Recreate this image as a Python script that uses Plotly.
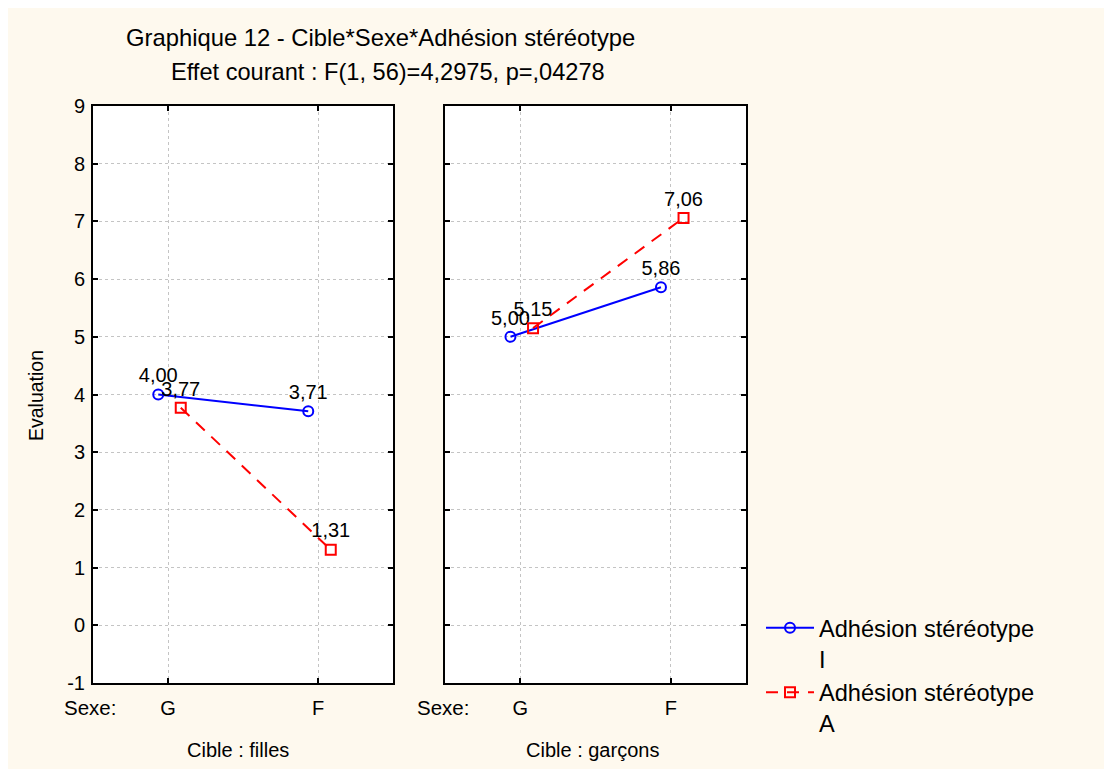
import plotly.graph_objects as go

# Données
sexe = ["G", "F"]
cibles = ["filles", "garçons"]
adhesion_I = {"filles": [4.00, 3.71], "garçons": [5.00, 5.86]}
adhesion_A = {"filles": [3.77, 1.31], "garçons": [5.15, 7.06]}
yticks = list(range(-1, 10))

FONT = "Liberation Sans, Arial, sans-serif"
CREAM = "#FEF9EE"
W, H = 1104, 761  # la page ajoute 8 px de marge blanche en haut et à gauche


def fmt(v):
    return f"{v:.2f}".replace(".", ",")


def px(x):
    return x / W


def py(y):
    return 1 - y / H


fig = go.Figure()

series = [
    ("Adhésion stéréotype<br>I", adhesion_I, "#0000FF", "circle-open", "solid", -0.065),
    ("Adhésion stéréotype<br>A", adhesion_A, "#FF0000", "square-open", "12px,9px", 0.085),
]

for i, cible in enumerate(cibles):
    xa = "x" if i == 0 else "x2"
    ya = "y" if i == 0 else "y2"
    for name, vals, color, symbol, dash, off in series:
        fig.add_trace(
            go.Scatter(
                x=[k + off for k in range(len(sexe))],
                y=vals[cible],
                xaxis=xa,
                yaxis=ya,
                mode="lines+markers+text",
                name=name,
                showlegend=(i == 0),
                line=dict(color=color, width=2, dash=dash),
                marker=dict(symbol=symbol, size=10, color=color, line=dict(width=2, color=color)),
                text=[fmt(v) for v in vals[cible]],
                textposition="top center",
                textfont=dict(size=20, color="black", family=FONT),
                cliponaxis=False,
            )
        )

axis_common = dict(
    showline=True,
    linecolor="black",
    linewidth=2,
    mirror="ticks",
    ticks="inside",
    ticklen=5,
    tickwidth=2,
    tickcolor="black",
    showgrid=True,
    gridcolor="#C4C4C4",
    gridwidth=1,
    griddash="dot",
    zeroline=False,
    automargin=False,
    tickfont=dict(size=20, color="black", family=FONT),
)

fig.update_layout(
    width=W,
    height=H,
    margin=dict(l=0, r=0, t=0, b=0),
    paper_bgcolor=CREAM,
    plot_bgcolor="white",
    font=dict(family=FONT, color="black"),
    xaxis=dict(domain=[px(85), px(385)], range=[-0.5, 1.5],
               tickvals=[0, 1], ticktext=sexe, ticklabelstandoff=6, **axis_common),
    xaxis2=dict(domain=[px(437), px(738)], range=[-0.5, 1.5], anchor="y2",
                tickvals=[0, 1], ticktext=sexe, ticklabelstandoff=6, **axis_common),
    yaxis=dict(domain=[py(675), py(98)], range=[-1, 9],
               tickvals=yticks, ticktext=[str(t) for t in yticks],
               ticklabelstandoff=2, **axis_common),
    yaxis2=dict(domain=[py(675), py(98)], range=[-1, 9],
                tickvals=yticks, showticklabels=False, anchor="x2", **axis_common),
    legend=dict(
        x=px(753), y=py(598), xanchor="left", yanchor="top",
        bgcolor="rgba(0,0,0,0)", valign="top",
        font=dict(size=23.6, family=FONT, color="black"),
        itemwidth=48,
    ),
    showlegend=True,
)

annots = [
    ("Graphique 12 - Cible*Sexe*Adhésion stéréotype", 372, 29, 23.8),
    ("Effet courant : F(1, 56)=4,2975, p=,04278", 380, 64, 23.6),
    ("Sexe:", 82, 699, 20.5),
    ("Sexe:", 435, 699, 20.5),
    ("Cible : filles", 230, 742, 20),
    ("Cible : garçons", 584, 742, 20),
]
for txt, ax_, ay_, sz in annots:
    fig.add_annotation(text=txt, xref="paper", yref="paper", x=px(ax_), y=py(ay_),
                       xanchor="center", yanchor="middle", showarrow=False,
                       font=dict(size=sz, family=FONT, color="black"))

fig.add_annotation(text="Evaluation", xref="paper", yref="paper", x=px(28), y=py(388),
                   textangle=-90, xanchor="center", yanchor="middle", showarrow=False,
                   font=dict(size=19.5, family=FONT, color="black"))

fig.write_html("out.html", config={"displayModeBar": False})
